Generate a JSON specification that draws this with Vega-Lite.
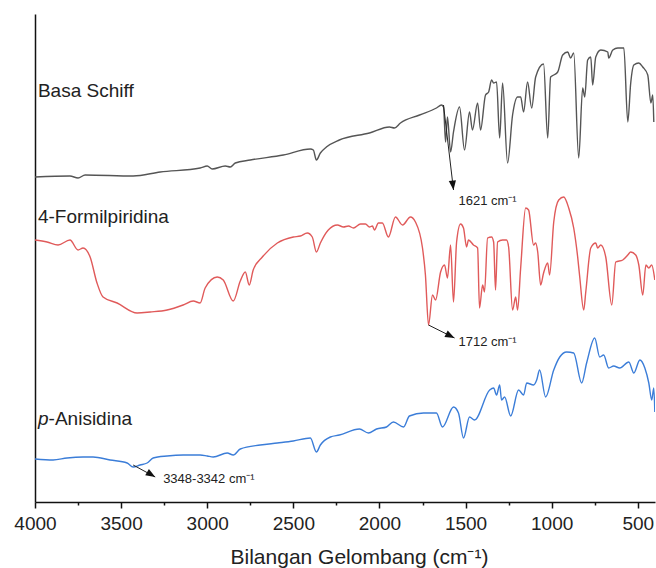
{
  "$schema": "https://vega.github.io/schema/vega-lite/v6.json",
  "width": 620,
  "height": 488,
  "autosize": {"type": "none"},
  "padding": {"left": 35, "top": 14, "right": 1, "bottom": 66},
  "config": {"view": {"stroke": null}, "font": "Liberation Sans"},
  "datasets": {
    "spectra": [
      {"series": "Basa Schiff", "wn": 4000, "t": 325},
      {"series": "Basa Schiff", "wn": 3797, "t": 326},
      {"series": "Basa Schiff", "wn": 3750, "t": 324},
      {"series": "Basa Schiff", "wn": 3709, "t": 327},
      {"series": "Basa Schiff", "wn": 3430, "t": 326},
      {"series": "Basa Schiff", "wn": 3273, "t": 330},
      {"series": "Basa Schiff", "wn": 3041, "t": 334},
      {"series": "Basa Schiff", "wn": 3000, "t": 336},
      {"series": "Basa Schiff", "wn": 2971, "t": 333},
      {"series": "Basa Schiff", "wn": 2895, "t": 336},
      {"series": "Basa Schiff", "wn": 2866, "t": 335},
      {"series": "Basa Schiff", "wn": 2837, "t": 339},
      {"series": "Basa Schiff", "wn": 2750, "t": 342},
      {"series": "Basa Schiff", "wn": 2558, "t": 347},
      {"series": "Basa Schiff", "wn": 2401, "t": 353},
      {"series": "Basa Schiff", "wn": 2384, "t": 352},
      {"series": "Basa Schiff", "wn": 2366, "t": 342},
      {"series": "Basa Schiff", "wn": 2343, "t": 349},
      {"series": "Basa Schiff", "wn": 2308, "t": 355},
      {"series": "Basa Schiff", "wn": 2233, "t": 362},
      {"series": "Basa Schiff", "wn": 2058, "t": 369},
      {"series": "Basa Schiff", "wn": 1942, "t": 375},
      {"series": "Basa Schiff", "wn": 1913, "t": 374},
      {"series": "Basa Schiff", "wn": 1878, "t": 379},
      {"series": "Basa Schiff", "wn": 1767, "t": 387},
      {"series": "Basa Schiff", "wn": 1669, "t": 394},
      {"series": "Basa Schiff", "wn": 1640, "t": 397},
      {"series": "Basa Schiff", "wn": 1628, "t": 395},
      {"series": "Basa Schiff", "wn": 1616, "t": 360},
      {"series": "Basa Schiff", "wn": 1605, "t": 385},
      {"series": "Basa Schiff", "wn": 1587, "t": 350},
      {"series": "Basa Schiff", "wn": 1570, "t": 370},
      {"series": "Basa Schiff", "wn": 1535, "t": 395},
      {"series": "Basa Schiff", "wn": 1506, "t": 352},
      {"series": "Basa Schiff", "wn": 1477, "t": 390},
      {"series": "Basa Schiff", "wn": 1460, "t": 372},
      {"series": "Basa Schiff", "wn": 1430, "t": 399},
      {"series": "Basa Schiff", "wn": 1413, "t": 372},
      {"series": "Basa Schiff", "wn": 1384, "t": 407},
      {"series": "Basa Schiff", "wn": 1366, "t": 410},
      {"series": "Basa Schiff", "wn": 1349, "t": 422},
      {"series": "Basa Schiff", "wn": 1337, "t": 419},
      {"series": "Basa Schiff", "wn": 1320, "t": 420},
      {"series": "Basa Schiff", "wn": 1302, "t": 364},
      {"series": "Basa Schiff", "wn": 1285, "t": 419},
      {"series": "Basa Schiff", "wn": 1256, "t": 339},
      {"series": "Basa Schiff", "wn": 1227, "t": 387},
      {"series": "Basa Schiff", "wn": 1198, "t": 405},
      {"series": "Basa Schiff", "wn": 1180, "t": 405},
      {"series": "Basa Schiff", "wn": 1163, "t": 390},
      {"series": "Basa Schiff", "wn": 1140, "t": 420},
      {"series": "Basa Schiff", "wn": 1116, "t": 394},
      {"series": "Basa Schiff", "wn": 1093, "t": 425},
      {"series": "Basa Schiff", "wn": 1047, "t": 438},
      {"series": "Basa Schiff", "wn": 1023, "t": 364},
      {"series": "Basa Schiff", "wn": 1006, "t": 425},
      {"series": "Basa Schiff", "wn": 988, "t": 427},
      {"series": "Basa Schiff", "wn": 965, "t": 430},
      {"series": "Basa Schiff", "wn": 936, "t": 447},
      {"series": "Basa Schiff", "wn": 907, "t": 450},
      {"series": "Basa Schiff", "wn": 890, "t": 444},
      {"series": "Basa Schiff", "wn": 872, "t": 449},
      {"series": "Basa Schiff", "wn": 843, "t": 344},
      {"series": "Basa Schiff", "wn": 820, "t": 414},
      {"series": "Basa Schiff", "wn": 808, "t": 405},
      {"series": "Basa Schiff", "wn": 791, "t": 442},
      {"series": "Basa Schiff", "wn": 773, "t": 445},
      {"series": "Basa Schiff", "wn": 762, "t": 417},
      {"series": "Basa Schiff", "wn": 744, "t": 445},
      {"series": "Basa Schiff", "wn": 715, "t": 452},
      {"series": "Basa Schiff", "wn": 674, "t": 450},
      {"series": "Basa Schiff", "wn": 669, "t": 444},
      {"series": "Basa Schiff", "wn": 645, "t": 452},
      {"series": "Basa Schiff", "wn": 616, "t": 454},
      {"series": "Basa Schiff", "wn": 581, "t": 454},
      {"series": "Basa Schiff", "wn": 558, "t": 380},
      {"series": "Basa Schiff", "wn": 541, "t": 419},
      {"series": "Basa Schiff", "wn": 523, "t": 437},
      {"series": "Basa Schiff", "wn": 494, "t": 439},
      {"series": "Basa Schiff", "wn": 471, "t": 435},
      {"series": "Basa Schiff", "wn": 442, "t": 427},
      {"series": "Basa Schiff", "wn": 424, "t": 399},
      {"series": "Basa Schiff", "wn": 413, "t": 407},
      {"series": "Basa Schiff", "wn": 407, "t": 380},
      {"series": "4-Formilpiridina", "wn": 4000, "t": 262},
      {"series": "4-Formilpiridina", "wn": 3930, "t": 260},
      {"series": "4-Formilpiridina", "wn": 3866, "t": 257},
      {"series": "4-Formilpiridina", "wn": 3797, "t": 262},
      {"series": "4-Formilpiridina", "wn": 3750, "t": 252},
      {"series": "4-Formilpiridina", "wn": 3721, "t": 254},
      {"series": "4-Formilpiridina", "wn": 3680, "t": 245},
      {"series": "4-Formilpiridina", "wn": 3640, "t": 219},
      {"series": "4-Formilpiridina", "wn": 3605, "t": 205},
      {"series": "4-Formilpiridina", "wn": 3523, "t": 199},
      {"series": "4-Formilpiridina", "wn": 3407, "t": 189},
      {"series": "4-Formilpiridina", "wn": 3331, "t": 190},
      {"series": "4-Formilpiridina", "wn": 3233, "t": 192},
      {"series": "4-Formilpiridina", "wn": 3140, "t": 197},
      {"series": "4-Formilpiridina", "wn": 3081, "t": 201},
      {"series": "4-Formilpiridina", "wn": 3041, "t": 199},
      {"series": "4-Formilpiridina", "wn": 3012, "t": 214},
      {"series": "4-Formilpiridina", "wn": 2942, "t": 225},
      {"series": "4-Formilpiridina", "wn": 2907, "t": 222},
      {"series": "4-Formilpiridina", "wn": 2849, "t": 201},
      {"series": "4-Formilpiridina", "wn": 2808, "t": 221},
      {"series": "4-Formilpiridina", "wn": 2779, "t": 230},
      {"series": "4-Formilpiridina", "wn": 2756, "t": 217},
      {"series": "4-Formilpiridina", "wn": 2733, "t": 232},
      {"series": "4-Formilpiridina", "wn": 2680, "t": 245},
      {"series": "4-Formilpiridina", "wn": 2593, "t": 259},
      {"series": "4-Formilpiridina", "wn": 2500, "t": 265},
      {"series": "4-Formilpiridina", "wn": 2459, "t": 266},
      {"series": "4-Formilpiridina", "wn": 2419, "t": 269},
      {"series": "4-Formilpiridina", "wn": 2390, "t": 265},
      {"series": "4-Formilpiridina", "wn": 2366, "t": 250},
      {"series": "4-Formilpiridina", "wn": 2343, "t": 259},
      {"series": "4-Formilpiridina", "wn": 2297, "t": 272},
      {"series": "4-Formilpiridina", "wn": 2244, "t": 277},
      {"series": "4-Formilpiridina", "wn": 2209, "t": 275},
      {"series": "4-Formilpiridina", "wn": 2180, "t": 276},
      {"series": "4-Formilpiridina", "wn": 2151, "t": 274},
      {"series": "4-Formilpiridina", "wn": 2110, "t": 278},
      {"series": "4-Formilpiridina", "wn": 2081, "t": 278},
      {"series": "4-Formilpiridina", "wn": 2058, "t": 275},
      {"series": "4-Formilpiridina", "wn": 2041, "t": 276},
      {"series": "4-Formilpiridina", "wn": 2029, "t": 272},
      {"series": "4-Formilpiridina", "wn": 2006, "t": 279},
      {"series": "4-Formilpiridina", "wn": 1983, "t": 279},
      {"series": "4-Formilpiridina", "wn": 1948, "t": 265},
      {"series": "4-Formilpiridina", "wn": 1907, "t": 285},
      {"series": "4-Formilpiridina", "wn": 1866, "t": 277},
      {"series": "4-Formilpiridina", "wn": 1820, "t": 285},
      {"series": "4-Formilpiridina", "wn": 1791, "t": 280},
      {"series": "4-Formilpiridina", "wn": 1750, "t": 254},
      {"series": "4-Formilpiridina", "wn": 1733, "t": 227},
      {"series": "4-Formilpiridina", "wn": 1715, "t": 177},
      {"series": "4-Formilpiridina", "wn": 1692, "t": 207},
      {"series": "4-Formilpiridina", "wn": 1674, "t": 202},
      {"series": "4-Formilpiridina", "wn": 1645, "t": 230},
      {"series": "4-Formilpiridina", "wn": 1622, "t": 237},
      {"series": "4-Formilpiridina", "wn": 1605, "t": 224},
      {"series": "4-Formilpiridina", "wn": 1587, "t": 257},
      {"series": "4-Formilpiridina", "wn": 1570, "t": 200},
      {"series": "4-Formilpiridina", "wn": 1552, "t": 260},
      {"series": "4-Formilpiridina", "wn": 1529, "t": 278},
      {"series": "4-Formilpiridina", "wn": 1512, "t": 274},
      {"series": "4-Formilpiridina", "wn": 1494, "t": 255},
      {"series": "4-Formilpiridina", "wn": 1483, "t": 262},
      {"series": "4-Formilpiridina", "wn": 1454, "t": 257},
      {"series": "4-Formilpiridina", "wn": 1430, "t": 254},
      {"series": "4-Formilpiridina", "wn": 1419, "t": 194},
      {"series": "4-Formilpiridina", "wn": 1401, "t": 217},
      {"series": "4-Formilpiridina", "wn": 1390, "t": 210},
      {"series": "4-Formilpiridina", "wn": 1372, "t": 264},
      {"series": "4-Formilpiridina", "wn": 1349, "t": 265},
      {"series": "4-Formilpiridina", "wn": 1337, "t": 260},
      {"series": "4-Formilpiridina", "wn": 1326, "t": 212},
      {"series": "4-Formilpiridina", "wn": 1314, "t": 260},
      {"series": "4-Formilpiridina", "wn": 1285, "t": 262},
      {"series": "4-Formilpiridina", "wn": 1262, "t": 262},
      {"series": "4-Formilpiridina", "wn": 1250, "t": 255},
      {"series": "4-Formilpiridina", "wn": 1227, "t": 192},
      {"series": "4-Formilpiridina", "wn": 1209, "t": 205},
      {"series": "4-Formilpiridina", "wn": 1198, "t": 192},
      {"series": "4-Formilpiridina", "wn": 1180, "t": 234},
      {"series": "4-Formilpiridina", "wn": 1151, "t": 294},
      {"series": "4-Formilpiridina", "wn": 1134, "t": 292},
      {"series": "4-Formilpiridina", "wn": 1105, "t": 257},
      {"series": "4-Formilpiridina", "wn": 1093, "t": 259},
      {"series": "4-Formilpiridina", "wn": 1081, "t": 250},
      {"series": "4-Formilpiridina", "wn": 1064, "t": 217},
      {"series": "4-Formilpiridina", "wn": 1047, "t": 229},
      {"series": "4-Formilpiridina", "wn": 1023, "t": 239},
      {"series": "4-Formilpiridina", "wn": 1012, "t": 227},
      {"series": "4-Formilpiridina", "wn": 988, "t": 280},
      {"series": "4-Formilpiridina", "wn": 959, "t": 302},
      {"series": "4-Formilpiridina", "wn": 930, "t": 305},
      {"series": "4-Formilpiridina", "wn": 901, "t": 294},
      {"series": "4-Formilpiridina", "wn": 872, "t": 274},
      {"series": "4-Formilpiridina", "wn": 849, "t": 245},
      {"series": "4-Formilpiridina", "wn": 837, "t": 225},
      {"series": "4-Formilpiridina", "wn": 814, "t": 192},
      {"series": "4-Formilpiridina", "wn": 802, "t": 210},
      {"series": "4-Formilpiridina", "wn": 773, "t": 254},
      {"series": "4-Formilpiridina", "wn": 744, "t": 259},
      {"series": "4-Formilpiridina", "wn": 733, "t": 254},
      {"series": "4-Formilpiridina", "wn": 715, "t": 257},
      {"series": "4-Formilpiridina", "wn": 686, "t": 245},
      {"series": "4-Formilpiridina", "wn": 651, "t": 197},
      {"series": "4-Formilpiridina", "wn": 628, "t": 240},
      {"series": "4-Formilpiridina", "wn": 587, "t": 242},
      {"series": "4-Formilpiridina", "wn": 558, "t": 247},
      {"series": "4-Formilpiridina", "wn": 541, "t": 250},
      {"series": "4-Formilpiridina", "wn": 512, "t": 247},
      {"series": "4-Formilpiridina", "wn": 494, "t": 237},
      {"series": "4-Formilpiridina", "wn": 471, "t": 207},
      {"series": "4-Formilpiridina", "wn": 453, "t": 237},
      {"series": "4-Formilpiridina", "wn": 436, "t": 234},
      {"series": "4-Formilpiridina", "wn": 419, "t": 237},
      {"series": "4-Formilpiridina", "wn": 401, "t": 222},
      {"series": "p-Anisidina", "wn": 4000, "t": 43},
      {"series": "p-Anisidina", "wn": 3895, "t": 42},
      {"series": "p-Anisidina", "wn": 3814, "t": 44},
      {"series": "p-Anisidina", "wn": 3721, "t": 45},
      {"series": "p-Anisidina", "wn": 3663, "t": 45},
      {"series": "p-Anisidina", "wn": 3564, "t": 42},
      {"series": "p-Anisidina", "wn": 3465, "t": 39},
      {"series": "p-Anisidina", "wn": 3430, "t": 35},
      {"series": "p-Anisidina", "wn": 3390, "t": 37},
      {"series": "p-Anisidina", "wn": 3349, "t": 39},
      {"series": "p-Anisidina", "wn": 3314, "t": 44},
      {"series": "p-Anisidina", "wn": 3233, "t": 46},
      {"series": "p-Anisidina", "wn": 3140, "t": 47},
      {"series": "p-Anisidina", "wn": 3041, "t": 47},
      {"series": "p-Anisidina", "wn": 3000, "t": 46},
      {"series": "p-Anisidina", "wn": 2965, "t": 45},
      {"series": "p-Anisidina", "wn": 2884, "t": 49},
      {"series": "p-Anisidina", "wn": 2849, "t": 47},
      {"series": "p-Anisidina", "wn": 2808, "t": 53},
      {"series": "p-Anisidina", "wn": 2692, "t": 57},
      {"series": "p-Anisidina", "wn": 2593, "t": 59},
      {"series": "p-Anisidina", "wn": 2500, "t": 61},
      {"series": "p-Anisidina", "wn": 2401, "t": 64},
      {"series": "p-Anisidina", "wn": 2366, "t": 50},
      {"series": "p-Anisidina", "wn": 2343, "t": 57},
      {"series": "p-Anisidina", "wn": 2285, "t": 65},
      {"series": "p-Anisidina", "wn": 2233, "t": 67},
      {"series": "p-Anisidina", "wn": 2116, "t": 73},
      {"series": "p-Anisidina", "wn": 2064, "t": 69},
      {"series": "p-Anisidina", "wn": 2017, "t": 73},
      {"series": "p-Anisidina", "wn": 1959, "t": 75},
      {"series": "p-Anisidina", "wn": 1919, "t": 80},
      {"series": "p-Anisidina", "wn": 1860, "t": 75},
      {"series": "p-Anisidina", "wn": 1826, "t": 86},
      {"series": "p-Anisidina", "wn": 1744, "t": 89},
      {"series": "p-Anisidina", "wn": 1669, "t": 89},
      {"series": "p-Anisidina", "wn": 1634, "t": 75},
      {"series": "p-Anisidina", "wn": 1570, "t": 95},
      {"series": "p-Anisidina", "wn": 1541, "t": 89},
      {"series": "p-Anisidina", "wn": 1512, "t": 64},
      {"series": "p-Anisidina", "wn": 1477, "t": 85},
      {"series": "p-Anisidina", "wn": 1448, "t": 82},
      {"series": "p-Anisidina", "wn": 1360, "t": 112},
      {"series": "p-Anisidina", "wn": 1337, "t": 114},
      {"series": "p-Anisidina", "wn": 1320, "t": 107},
      {"series": "p-Anisidina", "wn": 1302, "t": 117},
      {"series": "p-Anisidina", "wn": 1291, "t": 102},
      {"series": "p-Anisidina", "wn": 1273, "t": 105},
      {"series": "p-Anisidina", "wn": 1238, "t": 86},
      {"series": "p-Anisidina", "wn": 1192, "t": 112},
      {"series": "p-Anisidina", "wn": 1163, "t": 107},
      {"series": "p-Anisidina", "wn": 1145, "t": 119},
      {"series": "p-Anisidina", "wn": 1105, "t": 117},
      {"series": "p-Anisidina", "wn": 1087, "t": 122},
      {"series": "p-Anisidina", "wn": 1070, "t": 132},
      {"series": "p-Anisidina", "wn": 1035, "t": 105},
      {"series": "p-Anisidina", "wn": 988, "t": 132},
      {"series": "p-Anisidina", "wn": 953, "t": 145},
      {"series": "p-Anisidina", "wn": 913, "t": 150},
      {"series": "p-Anisidina", "wn": 872, "t": 149},
      {"series": "p-Anisidina", "wn": 826, "t": 119},
      {"series": "p-Anisidina", "wn": 797, "t": 139},
      {"series": "p-Anisidina", "wn": 750, "t": 164},
      {"series": "p-Anisidina", "wn": 721, "t": 145},
      {"series": "p-Anisidina", "wn": 698, "t": 147},
      {"series": "p-Anisidina", "wn": 669, "t": 134},
      {"series": "p-Anisidina", "wn": 640, "t": 136},
      {"series": "p-Anisidina", "wn": 605, "t": 134},
      {"series": "p-Anisidina", "wn": 552, "t": 140},
      {"series": "p-Anisidina", "wn": 523, "t": 129},
      {"series": "p-Anisidina", "wn": 488, "t": 142},
      {"series": "p-Anisidina", "wn": 459, "t": 134},
      {"series": "p-Anisidina", "wn": 436, "t": 119},
      {"series": "p-Anisidina", "wn": 419, "t": 102},
      {"series": "p-Anisidina", "wn": 407, "t": 114},
      {"series": "p-Anisidina", "wn": 401, "t": 90}
    ],
    "labels": [
      {"text": "Basa Schiff", "wn": 3983, "t": 405},
      {"text": "4-Formilpiridina", "wn": 3983, "t": 279},
      {"text": "-Anisidina", "wn": 3921, "t": 77}
    ],
    "italic": [
      {"text": "p", "wn": 3983, "t": 77}
    ],
    "notes": [
      {"text": "1621 cm⁻¹", "wn": 1541, "t": 297},
      {"text": "1712 cm⁻¹", "wn": 1541, "t": 156},
      {"text": "3348-3342 cm⁻¹", "wn": 3256, "t": 19}
    ],
    "arrows": [
      {"id": "a1621", "wn0": 1628, "t0": 397, "wn": 1570, "t": 312},
      {"id": "a1712", "wn0": 1715, "t0": 177, "wn": 1564, "t": 164},
      {"id": "a3348", "wn0": 3430, "t0": 37, "wn": 3302, "t": 25}
    ]
  },
  "encoding": {
    "x": {
      "field": "wn",
      "type": "quantitative",
      "scale": {"domain": [4000, 400], "nice": false, "zero": false},
      "axis": {
        "title": "Bilangan Gelombang (cm⁻¹)",
        "values": [4000, 3750, 3500, 3250, 3000, 2750, 2500, 2250, 2000, 1750, 1500, 1250, 1000, 750, 500],
        "format": "d",
        "labelExpr": "datum.value % 500 === 0 ? datum.label : ''",
        "labelOverlap": false,
        "labelFlush": false,
        "grid": false,
        "tickSize": {"condition": {"test": "datum.value % 500 === 0", "value": 6}, "value": 3},
        "tickColor": "#111",
        "tickWidth": 1.5,
        "domainColor": "#111",
        "domainWidth": 1.5,
        "labelFontSize": 19,
        "labelColor": "#222",
        "labelPadding": 6,
        "titleFontSize": 21,
        "titleFontWeight": "normal",
        "titleColor": "#222",
        "titleX": 324,
        "titleY": 61,
        "titleBaseline": "alphabetic"
      }
    },
    "y": {
      "field": "t",
      "type": "quantitative",
      "scale": {"domain": [0, 488], "nice": false, "zero": false},
      "axis": {"title": null, "labels": false, "ticks": false, "grid": false, "domainColor": "#111", "domainWidth": 1.5}
    }
  },
  "layer": [
    {
      "data": {"name": "spectra"},
      "mark": {"type": "line", "strokeWidth": 1.4, "interpolate": "monotone", "clip": true},
      "encoding": {
        "color": {
          "field": "series",
          "type": "nominal",
          "scale": {"domain": ["Basa Schiff", "4-Formilpiridina", "p-Anisidina"], "range": ["#555555", "#e05a5a", "#3b7dd8"]},
          "legend": null
        }
      }
    },
    {
      "data": {"name": "labels"},
      "mark": {"type": "text", "align": "left", "baseline": "alphabetic", "fontSize": 19, "color": "#222"},
      "encoding": {"text": {"field": "text"}}
    },
    {
      "data": {"name": "italic"},
      "mark": {"type": "text", "align": "left", "baseline": "alphabetic", "fontSize": 19, "fontStyle": "italic", "color": "#222"},
      "encoding": {"text": {"field": "text"}}
    },
    {
      "data": {"name": "notes"},
      "mark": {"type": "text", "align": "left", "baseline": "alphabetic", "fontSize": 13, "color": "#222"},
      "encoding": {"text": {"field": "text"}}
    },
    {
      "data": {"name": "arrows"},
      "mark": {"type": "rule", "color": "#222", "strokeWidth": 1},
      "encoding": {"x2": {"field": "wn0"}, "y2": {"field": "t0"}}
    },
    {
      "data": {"name": "arrows"},
      "transform": [{"filter": "datum.id === 'a1621'"}],
      "mark": {"type": "point", "shape": "M0,0L-1,-0.38L-1,0.38Z", "filled": true, "size": 360, "angle": 83, "color": "#111", "opacity": 1, "strokeWidth": 0},
      "encoding": {}
    },
    {
      "data": {"name": "arrows"},
      "transform": [{"filter": "datum.id === 'a1712'"}],
      "mark": {"type": "point", "shape": "M0,0L-1,-0.38L-1,0.38Z", "filled": true, "size": 360, "angle": 27, "color": "#111", "opacity": 1, "strokeWidth": 0},
      "encoding": {}
    },
    {
      "data": {"name": "arrows"},
      "transform": [{"filter": "datum.id === 'a3348'"}],
      "mark": {"type": "point", "shape": "M0,0L-1,-0.38L-1,0.38Z", "filled": true, "size": 360, "angle": 31, "color": "#111", "opacity": 1, "strokeWidth": 0},
      "encoding": {}
    }
  ]
}
